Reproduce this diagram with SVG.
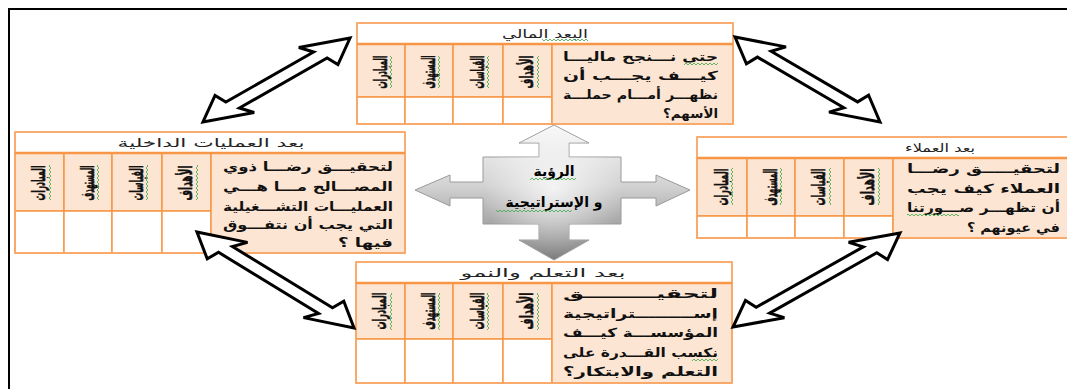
<svg xmlns="http://www.w3.org/2000/svg" width="1067" height="389" viewBox="0 0 1067 389">
<style>
.hd{fill:#fff;stroke:#f9a86a;stroke-width:1.5}
.pc{fill:#fde5d3;stroke:#f79646;stroke-width:1.5}
.wc{fill:#fff;stroke:#f79646;stroke-width:1.5}
.ob{fill:none;stroke:#f9a86a;stroke-width:1.5}
.hl{stroke:#f79646;stroke-width:2.5}
.h{font-family:"DejaVu Sans",sans-serif;font-size:11.5px;fill:#222;text-anchor:middle}
.p{font-family:"DejaVu Sans",sans-serif;font-weight:bold;font-size:12.5px;fill:#111;text-anchor:end}
.v{font-family:"DejaVu Sans",sans-serif;font-weight:bold;font-size:14px;fill:#111;stroke:#111;stroke-width:0.4;text-anchor:middle}
.c{font-family:"DejaVu Sans",sans-serif;font-weight:bold;font-size:14px;fill:#000;text-anchor:middle}
.da{fill:#fff;stroke:#000;stroke-width:3;stroke-linejoin:miter;vector-effect:non-scaling-stroke}
.wh{fill:url(#wvh)}
.wv{fill:url(#wvv)}
</style>
<defs>
<pattern id="wvh" patternUnits="userSpaceOnUse" width="4" height="2"><path d="M0,0 L2,2 L4,0" fill="none" stroke="#3aa845" stroke-width="0.8"/></pattern>
<pattern id="wvv" patternUnits="userSpaceOnUse" width="2" height="4"><path d="M0,0 L2,2 L0,4" fill="none" stroke="#3aa845" stroke-width="0.8"/></pattern>
<linearGradient id="gg" gradientUnits="userSpaceOnUse" x1="0" y1="125" x2="0" y2="260">
<stop offset="0" stop-color="#f8f8f8"/><stop offset="0.45" stop-color="#d2d2d2"/><stop offset="1" stop-color="#7c7c7c"/>
</linearGradient>
<radialGradient id="gr" gradientUnits="userSpaceOnUse" cx="553" cy="188" r="70">
<stop offset="0" stop-color="#fff" stop-opacity="0.75"/><stop offset="1" stop-color="#fff" stop-opacity="0"/>
</radialGradient>
</defs>
<rect width="1067" height="389" fill="#fff"/>
<path d="M9,389 V9 H1067" fill="none" stroke="#000" stroke-width="2"/>

<g id="financial">
<rect class="hd" x="357" y="23" width="376" height="21"/>
<rect class="pc" x="357" y="44" width="48" height="53"/><rect class="pc" x="405" y="44" width="48" height="53"/><rect class="pc" x="453" y="44" width="50" height="53"/><rect class="pc" x="503" y="44" width="49" height="53"/>
<rect class="wc" x="357" y="97" width="48" height="27"/><rect class="wc" x="405" y="97" width="48" height="27"/><rect class="wc" x="453" y="97" width="50" height="27"/><rect class="wc" x="503" y="97" width="49" height="27"/>
<rect class="pc" x="552" y="44" width="181" height="80"/>
<rect class="ob" x="357" y="23" width="376" height="101"/>
<line class="hl" x1="357" y1="44" x2="733" y2="44"/>
<text class="h" x="545" y="37.5" textLength="86" lengthAdjust="spacingAndGlyphs">البعد المالي</text>
<rect class="wh" x="542" y="39" width="46" height="2"/>
<text class="v" transform="translate(527.5,72) rotate(-90) scale(1,1.3)" y="4.5" textLength="33" lengthAdjust="spacingAndGlyphs">الأهداف</text>
<text class="v" transform="translate(478,72) rotate(-90) scale(1,1.3)" y="4.5" textLength="33" lengthAdjust="spacingAndGlyphs">القياسات</text>
<text class="v" transform="translate(429,72) rotate(-90) scale(1,1.3)" y="4.5" textLength="33" lengthAdjust="spacingAndGlyphs">المستهدف</text>
<text class="v" transform="translate(381,72) rotate(-90) scale(1,1.3)" y="4.5" textLength="33" lengthAdjust="spacingAndGlyphs">المبادرات</text>
<rect class="wv" x="537" y="56" width="2" height="32"/><rect class="wv" x="487" y="56" width="2" height="32"/><rect class="wv" x="438" y="56" width="2" height="32"/><rect class="wv" x="390" y="56" width="2" height="32"/>
<text class="p" x="718" y="61" textLength="155" lengthAdjust="spacingAndGlyphs">حتى نـــنجح ماليـــا</text>
<text class="p" x="718" y="80" textLength="155" lengthAdjust="spacingAndGlyphs">كيـــف يجـــب أن</text>
<text class="p" x="718" y="99" textLength="155" lengthAdjust="spacingAndGlyphs">نظهـــر أمـــام حملـــة</text>
<text class="p" x="718" y="118" textLength="55" lengthAdjust="spacingAndGlyphs">الأسهم؟&#x200F;</text>
<rect class="wh" x="684" y="63" width="34" height="2"/>
</g>

<g id="internal">
<rect class="hd" x="15" y="132" width="390" height="21"/>
<rect class="pc" x="15" y="153" width="49" height="58"/><rect class="pc" x="64" y="153" width="48" height="58"/><rect class="pc" x="112" y="153" width="50" height="58"/><rect class="pc" x="162" y="153" width="49" height="58"/>
<rect class="wc" x="15" y="211" width="49" height="42"/><rect class="wc" x="64" y="211" width="48" height="42"/><rect class="wc" x="112" y="211" width="50" height="42"/><rect class="wc" x="162" y="211" width="49" height="42"/>
<rect class="pc" x="211" y="153" width="194" height="100"/>
<rect class="ob" x="15" y="132" width="390" height="121"/>
<line class="hl" x1="15" y1="153" x2="405" y2="153"/>
<text class="h" x="211" y="146.5" textLength="187" lengthAdjust="spacingAndGlyphs">بعد العمليات الداخلية</text>
<text class="v" transform="translate(186.5,183) rotate(-90) scale(1,1.3)" y="4.5" textLength="35" lengthAdjust="spacingAndGlyphs">الأهداف</text>
<text class="v" transform="translate(137,183) rotate(-90) scale(1,1.3)" y="4.5" textLength="35" lengthAdjust="spacingAndGlyphs">القياسات</text>
<text class="v" transform="translate(88,183) rotate(-90) scale(1,1.3)" y="4.5" textLength="35" lengthAdjust="spacingAndGlyphs">المستهدف</text>
<text class="v" transform="translate(39.5,183) rotate(-90) scale(1,1.3)" y="4.5" textLength="35" lengthAdjust="spacingAndGlyphs">المبادرات</text>
<rect class="wv" x="196" y="165" width="2" height="35"/><rect class="wv" x="146" y="165" width="2" height="35"/><rect class="wv" x="97" y="165" width="2" height="35"/><rect class="wv" x="49" y="165" width="2" height="35"/>
<text class="p" x="393" y="171" textLength="170" lengthAdjust="spacingAndGlyphs">لتحقيـــق رضـــا ذوي</text>
<text class="p" x="393" y="191" textLength="170" lengthAdjust="spacingAndGlyphs">المصـــالح مـــا هـــي</text>
<text class="p" x="393" y="211" textLength="170" lengthAdjust="spacingAndGlyphs">العمليـــات التشـــغيلية</text>
<text class="p" x="393" y="229" textLength="170" lengthAdjust="spacingAndGlyphs">التي يجب أن نتفـــوق</text>
<text class="p" x="393" y="247" textLength="55" lengthAdjust="spacingAndGlyphs">فيها ؟&#x200F;</text>
</g>

<g id="customer">
<rect class="hd" x="697" y="137" width="373" height="21"/>
<rect class="pc" x="697" y="158" width="50" height="58"/><rect class="pc" x="747" y="158" width="48" height="58"/><rect class="pc" x="795" y="158" width="49" height="58"/><rect class="pc" x="844" y="158" width="49" height="58"/>
<rect class="wc" x="697" y="216" width="50" height="22"/><rect class="wc" x="747" y="216" width="48" height="22"/><rect class="wc" x="795" y="216" width="49" height="22"/><rect class="wc" x="844" y="216" width="49" height="22"/>
<rect class="pc" x="893" y="158" width="177" height="80"/>
<rect class="ob" x="697" y="137" width="373" height="101"/>
<line class="hl" x1="697" y1="158" x2="1070" y2="158"/>
<text class="h" x="940" y="151.5" textLength="70" lengthAdjust="spacingAndGlyphs">بعد العملاء</text>
<text class="v" transform="translate(868.5,187) rotate(-90) scale(1,1.3)" y="4.5" textLength="37" lengthAdjust="spacingAndGlyphs">الأهداف</text>
<text class="v" transform="translate(819.5,187) rotate(-90) scale(1,1.3)" y="4.5" textLength="37" lengthAdjust="spacingAndGlyphs">القياسات</text>
<text class="v" transform="translate(771,187) rotate(-90) scale(1,1.3)" y="4.5" textLength="37" lengthAdjust="spacingAndGlyphs">المستهدف</text>
<text class="v" transform="translate(722,187) rotate(-90) scale(1,1.3)" y="4.5" textLength="37" lengthAdjust="spacingAndGlyphs">المبادرات</text>
<rect class="wv" x="878" y="168" width="2" height="37"/><rect class="wv" x="829" y="168" width="2" height="37"/><rect class="wv" x="780" y="168" width="2" height="37"/><rect class="wv" x="731" y="168" width="2" height="37"/>
<text class="p" x="1060" y="173" textLength="153" lengthAdjust="spacingAndGlyphs">لتحقيـــــق رضـــا</text>
<text class="p" x="1060" y="193" textLength="153" lengthAdjust="spacingAndGlyphs">العملاء كيف يجب</text>
<text class="p" x="1060" y="212" textLength="153" lengthAdjust="spacingAndGlyphs">أن تظهـــر صـــورتنا</text>
<text class="p" x="1060" y="232" textLength="93" lengthAdjust="spacingAndGlyphs">في عيونهم ؟&#x200F;</text>
<rect class="wh" x="907" y="214" width="52" height="2"/>
</g>

<g id="learning">
<rect class="hd" x="356" y="262" width="376" height="21"/>
<rect class="pc" x="356" y="283" width="49" height="56"/><rect class="pc" x="405" y="283" width="48" height="56"/><rect class="pc" x="453" y="283" width="50" height="56"/><rect class="pc" x="503" y="283" width="49" height="56"/>
<rect class="wc" x="356" y="339" width="49" height="44"/><rect class="wc" x="405" y="339" width="48" height="44"/><rect class="wc" x="453" y="339" width="50" height="44"/><rect class="wc" x="503" y="339" width="49" height="44"/>
<rect class="pc" x="552" y="283" width="180" height="100"/>
<rect class="ob" x="356" y="262" width="376" height="121"/>
<line class="hl" x1="356" y1="283" x2="732" y2="283"/>
<text class="h" x="543" y="276.5" textLength="165" lengthAdjust="spacingAndGlyphs">بعد التعلم والنمو</text>
<text class="v" transform="translate(527.5,311) rotate(-90) scale(1,1.3)" y="4.5" textLength="37" lengthAdjust="spacingAndGlyphs">الأهداف</text>
<text class="v" transform="translate(478,311) rotate(-90) scale(1,1.3)" y="4.5" textLength="37" lengthAdjust="spacingAndGlyphs">القياسات</text>
<text class="v" transform="translate(429,311) rotate(-90) scale(1,1.3)" y="4.5" textLength="37" lengthAdjust="spacingAndGlyphs">المستهدف</text>
<text class="v" transform="translate(380.5,311) rotate(-90) scale(1,1.3)" y="4.5" textLength="37" lengthAdjust="spacingAndGlyphs">المبادرات</text>
<rect class="wv" x="537" y="293" width="2" height="37"/><rect class="wv" x="487" y="293" width="2" height="37"/><rect class="wv" x="438" y="293" width="2" height="37"/><rect class="wv" x="390" y="293" width="2" height="37"/>
<text class="p" x="718" y="298" textLength="155" lengthAdjust="spacingAndGlyphs">لتحقيـــــــــق</text>
<text class="p" x="718" y="318" textLength="155" lengthAdjust="spacingAndGlyphs">إســـــــــتراتيجية</text>
<text class="p" x="718" y="337" textLength="155" lengthAdjust="spacingAndGlyphs">المؤسســـة كيـــف</text>
<text class="p" x="718" y="357" textLength="155" lengthAdjust="spacingAndGlyphs">نكسب القـــدرة على</text>
<text class="p" x="718" y="376" textLength="155" lengthAdjust="spacingAndGlyphs">التعلم والابتكار؟&#x200F;</text>
<rect class="wh" x="692" y="359" width="26" height="2"/>
</g>

<g id="vision">
<path d="M554,125 L589,143 L569,143 L569,157 L621,157 L621,182 L656,182 L656,175 L690,190 L656,206 L656,198 L621,198 L621,224 L569,224 L569,240 L589,240 L554,260 L519,240 L539,240 L539,224 L483,224 L483,198 L450,198 L450,206 L415,190 L450,175 L450,182 L483,182 L483,157 L539,157 L539,143 L519,143 Z" fill="url(#gg)" stroke="#9a9a9a" stroke-width="1"/>
<path d="M554,125 L589,143 L569,143 L569,157 L621,157 L621,182 L656,182 L656,175 L690,190 L656,206 L656,198 L621,198 L621,224 L569,224 L569,240 L589,240 L554,260 L519,240 L539,240 L539,224 L483,224 L483,198 L450,198 L450,206 L415,190 L450,175 L450,182 L483,182 L483,157 L539,157 L539,143 L519,143 Z" fill="url(#gr)"/>
<text class="c" x="554" y="176">الرؤية</text>
<text class="c" x="554" y="207">و الإستراتيجية</text>
<rect class="wh" x="530" y="178" width="46" height="2"/>
<rect class="wh" x="496" y="210" width="76" height="2"/>
</g>

<g id="connectors">
<g transform="scale(2,1)">
<path class="da" transform="translate(138.25,80) rotate(-48.8)" d="M-55.8,0 L-31.8,-13 L-33.3,-4.5 L33.3,-4.5 L31.8,-13 L55.8,0 L31.8,13 L33.3,4.5 L-33.3,4.5 L-31.8,13 Z"/>
<path class="da" transform="translate(403.75,79.5) rotate(49.5)" d="M-55.8,0 L-31.8,-13 L-33.3,-4.5 L33.3,-4.5 L31.8,-13 L55.8,0 L31.8,13 L33.3,4.5 L-33.3,4.5 L-31.8,13 Z"/>
<path class="da" transform="translate(137.75,280) rotate(50.7)" d="M-62,0 L-38,-13 L-39.5,-4.5 L39.5,-4.5 L38,-13 L62,0 L38,13 L39.5,4.5 L-39.5,4.5 L-38,13 Z"/>
<path class="da" transform="translate(408.25,280) rotate(-48.4)" d="M-62.85,0 L-38.85,-13 L-40.35,-4.5 L40.35,-4.5 L38.85,-13 L62.85,0 L38.85,13 L40.35,4.5 L-40.35,4.5 L-38.85,13 Z"/>
</g>
</g>
</svg>
